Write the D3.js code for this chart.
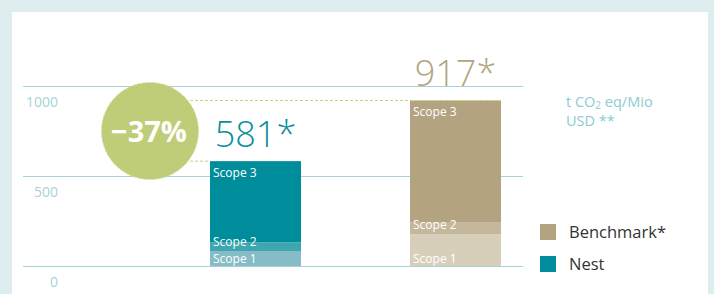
<!DOCTYPE html>
<html>
<head>
<meta charset="utf-8">
<script src="https://cdn.jsdelivr.net/npm/d3@7"></script>
<style>
  body { margin: 0; background: #deeeef; }
  svg { display: block; font-family: "Open Sans", "Noto Sans", sans-serif; }
</style>
</head>
<body>
<script>
// data
var categories = ["Nest", "Benchmark*"];
var scopes = ["Scope 1", "Scope 2", "Scope 3"];
var nestValues = [83, 48, 450];
var benchValues = [177, 63, 677];
var totals = [581, 917];
var yTicks = [0, 500, 1000];
var reduction = "\u221237%";

var w = 714, h = 294;
var colors = {
  "Nest": ["#86bcc6", "#3ea6b1", "#008d9b"],
  "Benchmark*": ["#d8cfba", "#c5b79b", "#b3a381"]
};
var totalColors = { "Nest": "#0a8f9c", "Benchmark*": "#b3a381" };

var svg = d3.select("body").append("svg").attr("width", w).attr("height", h);

// white panel
svg.append("rect").attr("x", 12).attr("y", 12).attr("width", 696).attr("height", 290).attr("fill", "#fff");

var yScale = d3.scaleLinear().domain([0, 1000]).range([266, 85.5]);
var xScale = d3.scaleBand().domain(categories).range([210, 501]).paddingInner(0.545);

// gridlines
svg.selectAll("line.grid")
  .data(yTicks)
  .enter()
  .append("line")
  .attr("class", "grid")
  .attr("x1", 23).attr("x2", 523)
  .attr("y1", function(d) { return Math.round(yScale(d)) + 0.5; })
  .attr("y2", function(d) { return Math.round(yScale(d)) + 0.5; })
  .attr("stroke", "#a6d3d8").attr("stroke-width", 1.2);

// tick labels below lines
svg.selectAll("text.tick")
  .data(yTicks)
  .enter()
  .append("text")
  .attr("class", "tick")
  .attr("x", 58)
  .attr("y", function(d) { return yScale(d) + 21; })
  .attr("text-anchor", "end")
  .attr("fill", "#a6d3d8")
  .style("font-size", "14px")
  .text(function(d) { return d; });

// stacked bars
var series = [
  { cat: "Nest", values: nestValues },
  { cat: "Benchmark*", values: benchValues }
];

series.forEach(function(s) {
  var base = 0;
  var segs = s.values.map(function(v, i) {
    var seg = { cat: s.cat, scope: scopes[i], y0: base, y1: base + v, i: i };
    base += v;
    return seg;
  });

  var g = svg.append("g");
  g.selectAll("rect")
    .data(segs)
    .enter()
    .append("rect")
    .attr("x", xScale(s.cat))
    .attr("width", xScale.bandwidth())
    .attr("y", function(d) { return yScale(d.y1); })
    .attr("height", function(d) { return yScale(d.y0) - yScale(d.y1); })
    .attr("fill", function(d) { return colors[s.cat][d.i]; });

  g.selectAll("text")
    .data(segs)
    .enter()
    .append("text")
    .attr("x", xScale(s.cat) + 3)
    .attr("y", function(d) {
      if (d.i == 2) return yScale(d.y1) + 16;
      if (d.i == 1) return yScale(d.y0) - 5;
      return yScale(d.y0) - 3;
    })
    .attr("fill", "#fff")
    .style("font-size", "12px")
    .text(function(d) { return d.scope; });
});

// dashed guide lines
var cx = 150, cy = 131, r = 48.5;
svg.append("line")
  .attr("x1", cx + 40).attr("x2", xScale("Benchmark*") + xScale.bandwidth())
  .attr("y1", yScale(totals[1])).attr("y2", yScale(totals[1]))
  .attr("stroke", "#c5d27f").attr("stroke-dasharray", "3,2").attr("stroke-width", 1);
svg.append("line")
  .attr("x1", cx + 40).attr("x2", xScale("Nest"))
  .attr("y1", yScale(totals[0])).attr("y2", yScale(totals[0]))
  .attr("stroke", "#c5d27f").attr("stroke-dasharray", "3,2").attr("stroke-width", 1);

// reduction circle
svg.append("circle")
  .attr("cx", cx).attr("cy", cy).attr("r", r)
  .attr("fill", "#bfcc78")
  .attr("stroke", "#d6df9f").attr("stroke-width", 1).attr("stroke-dasharray", "3,2");
svg.append("text")
  .attr("x", cx - 1).attr("y", cy + 11)
  .attr("text-anchor", "middle")
  .attr("fill", "#fff")
  .style("font-size", "29px")
  .style("font-weight", "bold")
  .text(reduction);

// totals
svg.selectAll("text.total")
  .data(categories)
  .enter()
  .append("text")
  .attr("class", "total")
  .attr("x", function(d) { return xScale(d) + xScale.bandwidth() / 2; })
  .attr("y", function(d, i) { return yScale(totals[i]) - 14; })
  .attr("text-anchor", "middle")
  .attr("fill", function(d) { return totalColors[d]; })
  .style("font-size", "36px")
  .style("font-weight", "300")
  .text(function(d, i) { return totals[i] + "*"; });

// unit label
var unit = svg.append("text").attr("x", 566).attr("y", 107)
  .attr("fill", "#8ccbd1").style("font-size", "14.5px");
unit.append("tspan").text("t CO");
unit.append("tspan").attr("dy", 2).style("font-size", "10px").text("2");
unit.append("tspan").attr("dy", -2).text(" eq/Mio");
svg.append("text").attr("x", 566).attr("y", 126)
  .attr("fill", "#8ccbd1").style("font-size", "14.5px").text("USD **");

// legend
var legend = svg.selectAll("g.legend")
  .data(["Benchmark*", "Nest"])
  .enter()
  .append("g")
  .attr("class", "legend")
  .attr("transform", function(d, i) { return "translate(540," + (224 + i * 32) + ")"; });
legend.append("rect").attr("width", 16).attr("height", 16)
  .attr("fill", function(d) { return d == "Nest" ? "#008d9b" : "#b3a381"; });
legend.append("text").attr("x", 29).attr("y", 14)
  .attr("fill", "#333").style("font-size", "16.5px")
  .text(function(d) { return d; });
</script>
</body>
</html>
